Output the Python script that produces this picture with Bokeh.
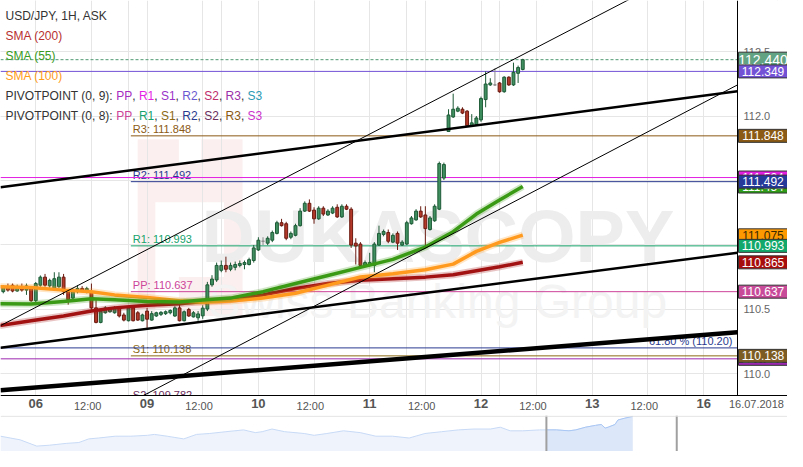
from bokeh.plotting import figure
from bokeh.models import (Range1d, Span, Label, FixedTicker, ColumnDataSource, PrintfTickFormatter,
                          LinearAxis, BoxAnnotation)
from bokeh.layouts import column
from bokeh.core.properties import value
from bokeh.embed import file_html
from bokeh.resources import INLINE

FONT = "Liberation Sans"

# ---------------- data ----------------
hours = list(range(-7, 106))  # hourly bar index, 0 = 06 Jul 00:00
open_ = [110.637, 110.675, 110.687, 110.642, 110.675, 110.649, 110.662, 110.567, 110.687, 110.750,
         110.682, 110.662, 110.675, 110.750, 110.637, 110.587, 110.637, 110.662, 110.642, 110.637,
         110.511, 110.398, 110.473, 110.481, 110.473, 110.511, 110.456, 110.411, 110.511, 110.473,
         110.411, 110.486, 110.416, 110.448, 110.461, 110.466, 110.473, 110.448, 110.511, 110.411,
         110.499, 110.441, 110.434, 110.449, 110.502, 110.690, 110.728, 110.803, 110.841, 110.811,
         110.826, 110.841, 110.848, 110.848, 110.879, 110.961, 111.029, 111.014, 111.037, 111.090,
         111.173, 111.165, 111.060, 111.075, 111.150, 111.263, 111.324, 111.271, 111.203, 111.286,
         111.233, 111.248, 111.293, 111.218, 111.301, 111.278, 111.014, 111.007, 110.841, 110.841,
         110.841, 110.999, 111.082, 111.097, 111.022, 111.090, 110.999, 111.007, 111.165, 111.195,
         111.263, 111.233, 111.120, 111.188, 111.278, 111.520, 111.882, 111.995, 112.040, 112.055,
         112.040, 111.927, 111.934, 111.972, 112.130, 112.244, 112.244, 112.259, 112.191, 112.304,
         112.244, 112.334, 112.364]
high_ = [110.687, 110.700, 110.700, 110.692, 110.700, 110.700, 110.675, 110.712, 110.763, 110.775,
         110.738, 110.788, 110.788, 110.775, 110.649, 110.662, 110.687, 110.680, 110.675, 110.700,
         110.574, 110.499, 110.524, 110.516, 110.524, 110.524, 110.473, 110.516, 110.524, 110.486,
         110.466, 110.511, 110.486, 110.481, 110.486, 110.491, 110.499, 110.524, 110.536, 110.491,
         110.511, 110.486, 110.486, 110.532, 110.713, 110.765, 110.863, 110.879, 110.909, 110.863,
         110.871, 110.879, 110.879, 110.901, 110.999, 111.060, 111.060, 111.067, 111.112, 111.188,
         111.203, 111.180, 111.105, 111.165, 111.286, 111.339, 111.354, 111.293, 111.301, 111.301,
         111.278, 111.301, 111.316, 111.316, 111.316, 111.293, 111.052, 111.022, 110.879, 110.939,
         111.022, 111.150, 111.120, 111.120, 111.090, 111.105, 111.037, 111.188, 111.225, 111.278,
         111.301, 111.301, 111.225, 111.316, 111.648, 111.640, 112.055, 112.176, 112.078, 112.070,
         112.048, 112.017, 112.002, 112.153, 112.349, 112.296, 112.372, 112.266, 112.311, 112.311,
         112.417, 112.394, 112.447]
low_ = [110.624, 110.637, 110.632, 110.637, 110.637, 110.612, 110.557, 110.541, 110.675, 110.675,
        110.667, 110.657, 110.667, 110.612, 110.536, 110.574, 110.624, 110.632, 110.624, 110.486,
        110.391, 110.391, 110.466, 110.473, 110.466, 110.436, 110.406, 110.406, 110.406, 110.411,
        110.406, 110.355, 110.411, 110.441, 110.448, 110.456, 110.461, 110.441, 110.406, 110.406,
        110.441, 110.436, 110.411, 110.426, 110.486, 110.675, 110.713, 110.788, 110.788, 110.796,
        110.803, 110.826, 110.811, 110.841, 110.863, 110.954, 110.999, 110.999, 111.022, 111.082,
        111.143, 111.037, 111.045, 111.067, 111.143, 111.256, 111.256, 111.165, 111.195, 111.225,
        111.225, 111.240, 111.210, 111.210, 111.271, 110.977, 110.848, 110.826, 110.833, 110.833,
        110.788, 110.992, 111.067, 111.014, 111.014, 110.961, 110.992, 110.999, 111.158, 111.188,
        111.210, 110.992, 111.112, 111.180, 111.271, 111.505, 111.882, 111.987, 112.032, 112.017,
        111.919, 111.919, 111.927, 111.957, 112.070, 112.236, 112.236, 112.183, 112.183, 112.236,
        112.236, 112.259, 112.357]
close_ = [110.675, 110.649, 110.642, 110.675, 110.649, 110.682, 110.567, 110.700, 110.750, 110.687,
          110.725, 110.738, 110.750, 110.637, 110.574, 110.637, 110.662, 110.642, 110.662, 110.511,
          110.398, 110.486, 110.511, 110.499, 110.511, 110.448, 110.416, 110.511, 110.411, 110.416,
          110.456, 110.423, 110.466, 110.473, 110.476, 110.481, 110.491, 110.511, 110.411, 110.481,
          110.448, 110.473, 110.464, 110.509, 110.690, 110.735, 110.841, 110.841, 110.811, 110.841,
          110.848, 110.856, 110.863, 110.886, 110.977, 111.037, 111.029, 111.052, 111.097, 111.173,
          111.150, 111.052, 111.090, 111.150, 111.263, 111.324, 111.263, 111.203, 111.286, 111.240,
          111.263, 111.286, 111.218, 111.301, 111.278, 110.999, 110.992, 110.841, 110.863, 110.863,
          111.007, 111.090, 111.105, 111.029, 111.075, 111.014, 111.022, 111.173, 111.210, 111.263,
          111.218, 111.127, 111.210, 111.301, 111.633, 111.625, 112.010, 112.055, 112.063, 112.025,
          111.927, 111.949, 111.987, 112.138, 112.251, 112.259, 112.244, 112.191, 112.304, 112.244,
          112.342, 112.379, 112.440]

sma_hours = [-8, -1, 6, 12, 17, 24, 31, 36, 42, 49, 56, 63, 70, 77, 84, 90, 95, 100, 105]
sma55 = [110.544, 110.541, 110.561, 110.582, 110.574, 110.561, 110.556, 110.572, 110.587, 110.637,
         110.700, 110.763, 110.826, 110.888, 110.984, 111.103, 111.240, 111.350, 111.454]
sma100 = [110.675, 110.670, 110.649, 110.637, 110.612, 110.592, 110.567, 110.555, 110.565, 110.587,
          110.625, 110.688, 110.751, 110.776, 110.808, 110.851, 110.950, 111.020, 111.077]
sma200 = [110.373, 110.411, 110.448, 110.486, 110.511, 110.531, 110.544, 110.560, 110.575, 110.612,
          110.662, 110.700, 110.725, 110.738, 110.750, 110.768, 110.800, 110.830, 110.865]

pivot8_names = ["R3", "R2", "R1", "PP", "S1", "S2"]
pivot8_values = [111.848, 111.492, 110.993, 110.637, 110.138, 109.782]
pivot8_colors = ["#8b5a14", "#2a3a8f", "#16a36b", "#cc4499", "#8b6914", "#6b2d5c"]
pivot8_start = 20.5

pivot9_values = [112.349, 111.524, 110.115]
pivot9_colors = ["#7352d6", "#e21fe0", "#9c27b0"]

last_price = 112.440
fib_level = 110.20
fib_text = "61.80 % (110.20)"

trend_h0 = [-7.6, -7.6, -7.6, -7.6, -7.6]
trend_p0 = [110.373, 109.249, 111.448, 110.202, 109.870]
trend_h1 = [151.3, 151.3, 151.3, 151.3, 151.3]
trend_p1 = [113.345, 112.244, 112.194, 110.939, 110.321]
trend_width = [1, 1, 2.5, 2.5, 4.5]

day_ticks = [0, 24, 48, 72, 96, 120, 144]
day_labels = ["06", "09", "10", "11", "12", "13", "16"]
half_ticks = [12, 36, 60, 84, 108, 132]
price_ticks = [110.0, 110.5, 111.0, 111.5, 112.0, 112.5]

tag_values = [112.440, 112.349, 111.848, 111.524, 111.454, 111.492, 111.075, 110.993, 110.865, 110.637, 110.115, 110.138]
tag_colors = ["#62a383", "#7352d6", "#8b5a14", "#e21fe0", "#2f9a1a", "#24399a", "#ff9900", "#13a86b", "#a80d0d", "#c84b9a", "#9c27b0", "#7d5c24"]
tag_text_colors = ["white"] * 6 + ["#3a2a00"] + ["white"] * 5

nav_t = [0, 10, 20, 37, 50, 67, 80, 90, 100, 117, 133, 150, 157, 170, 187, 200, 213, 230, 248, 260,
         267, 277, 290, 310, 320, 333, 350, 367, 383, 400, 417, 433, 450, 467, 483, 500, 510, 520, 533,
         550, 557, 567, 580, 587, 597, 607, 613, 617, 620, 627, 630, 637, 645]
nav_v = [110.125, 109.875, 109.625, 108.75, 108.875, 109.125, 109.25, 109.75, 109.875, 110.125, 110.125,
         110.25, 110.375, 110.125, 109.75, 110.375, 110.5, 110.75, 111.0, 110.625, 110.75, 111.125, 110.75,
         110.5, 110.25, 110.5, 110.875, 110.625, 110.125, 110.125, 109.875, 110.5, 110.75, 111.0, 111.125,
         111.125, 111.375, 110.875, 110.875, 111.0, 111.0, 111.0, 110.875, 111.0, 111.375, 111.625, 111.75,
         111.25, 111.375, 111.75, 112.375, 112.625, 112.875]
nav_window = (557, 645)
nav_marks = [557, 690]

# ---------------- layout helpers ----------------
X0, XA, Y0, Y1 = -7.6, 151.3, 109.83, 112.90   # XA: where the price axis sits, Y0: time axis
FW, FH = 737, 395          # plot area
FWT, LBL = 787, 20         # whole frame incl. price tag strip / time label strip
XE = X0 + FWT * (XA - X0) / FW
YB = Y0 - LBL * (Y1 - Y0) / FH


def dx(px):
    return X0 + px * (XA - X0) / FW


def dy(py):
    return Y1 - py * (Y1 - Y0) / FH


def rdx(rx):   # reference-picture pixel -> data
    return dx(rx * FW / 752.0)


def rdy(ry):
    return dy(ry * FH / 407.0)


AW = {"P": 667, "I": 278, "V": 667, "O": 778, "T": 611, "N": 722, " ": 278, "(": 333, ")": 333,
      ",": 278, ":": 278, "R": 722, "S": 667}


def tw(s, size=12):
    return sum(AW.get(c, 556) for c in s) * size / 1000.0


p = figure(frame_width=FWT, frame_height=FH + LBL, x_range=Range1d(X0, XE), y_range=Range1d(YB, Y1),
           toolbar_location=None, output_backend="svg", x_axis_location=None, y_axis_location=None,
           min_border=0)
p.outline_line_color = None
p.background_fill_color = "white"
p.border_fill_color = "white"

# watermark logo (behind the grid)
logo_pink = "#fcefef"
p.add_layout(BoxAnnotation(left=rdx(140), right=rdx(247), top=rdy(143), bottom=rdy(325),
                           fill_color=logo_pink, fill_alpha=1, line_color=None, level="image"))
for l, r, t, b in [(182, 205, 143, 168), (158, 228, 208, 285), (158, 182, 285, 325)]:
    p.add_layout(BoxAnnotation(left=rdx(l), right=rdx(r), top=rdy(t), bottom=rdy(b),
                               fill_color="white", fill_alpha=1, line_color=None, level="image"))

# time axis: days (bold), half days and the date, all on the plot's bottom edge
axis_style = dict(fixed_location=Y0, major_tick_out=0, major_tick_in=0, minor_tick_out=0,
                  minor_tick_in=0, major_label_text_font=FONT, major_label_text_color="#555555",
                  level="overlay")
ax = LinearAxis(ticker=FixedTicker(ticks=day_ticks, minor_ticks=half_ticks),
                major_label_overrides={t: l for t, l in zip(day_ticks, day_labels)},
                axis_line_color="black", major_label_text_font_size="13px",
                major_label_text_font_style="bold", major_label_standoff=3, **axis_style)
p.add_layout(ax, "below")
for ticks, fmt in [([t - 0.8 for t in half_ticks], "12:00"), ([dx(FW + 26)], "16.07.2018")]:
    p.add_layout(LinearAxis(ticker=FixedTicker(ticks=ticks), formatter=PrintfTickFormatter(format=fmt),
                            axis_line_color=None, major_label_text_font_size="11px",
                            major_label_standoff=4, **axis_style), "below")

ya = LinearAxis(ticker=FixedTicker(ticks=price_ticks), formatter=PrintfTickFormatter(format="%.1f"),
                fixed_location=XA, bounds=(Y0, Y1), axis_line_color="black", major_tick_out=0,
                major_tick_in=0, minor_tick_out=0, minor_tick_in=0, major_label_text_font=FONT,
                major_label_text_font_size="11px", major_label_text_color="#666666",
                major_label_standoff=6)
p.add_layout(ya, "right")

from bokeh.models import Grid
p.add_layout(Grid(dimension=0, ticker=ax.ticker, grid_line_color="#e6e6e6",
                  minor_grid_line_color="#e6e6e6"))
p.add_layout(Grid(dimension=1, ticker=FixedTicker(ticks=price_ticks), grid_line_color="#e6e6e6"))
# keep the price strip right of the axis clear of grid lines
p.add_layout(BoxAnnotation(left=XA, fill_color="white", fill_alpha=1.0, line_color=None, level="underlay"))

# watermark text
p.add_layout(Label(x=rdx(205), y=rdy(243), text="DUKASCOPY", text_font=FONT,
                   text_font_style="bold", text_font_size="74px", text_color="#ededed",
                   text_baseline="alphabetic", level="underlay"))
p.add_layout(Label(x=rdx(212), y=rdy(310), text="Swiss Banking Group", text_font=FONT,
                   text_font_size="48px", text_color="#f3f3f3", text_baseline="alphabetic",
                   level="underlay"))

# pivot (0, 8) lines and labels
n8 = len(pivot8_values)
p.segment(x0=[pivot8_start] * n8, y0=pivot8_values, x1=[XA] * n8, y1=pivot8_values,
          line_color=pivot8_colors, line_width=1)
p.text(x=[pivot8_start] * n8, y=pivot8_values,
       text=["%s: %.3f" % (n, v) for n, v in zip(pivot8_names, pivot8_values)],
       text_color=pivot8_colors, text_font=value(FONT), text_font_size="11px",
       text_baseline="bottom", x_offset=2, y_offset=-1)

# full width lines
n9 = len(pivot9_values)
p.segment(x0=[X0] * n9, y0=pivot9_values, x1=[XA] * n9, y1=pivot9_values,
          line_color=pivot9_colors, line_width=1)
p.segment(x0=[X0], y0=[fib_level], x1=[XA], y1=[fib_level], line_color="#2a3a8f", line_width=1)
p.text(x=[XA], y=[fib_level], text=[fib_text], text_color="#2a3a8f", text_font=value(FONT),
       text_font_size="11px", text_align="right", text_baseline="bottom", x_offset=-5, y_offset=-1)
p.segment(x0=[X0], y0=[last_price], x1=[XA], y1=[last_price], line_color="#4f9a72", line_width=1,
          line_dash="3 2")

# candles
up_fill, up_line = "#3f8f60", "#1d5a36"
dn_fill, dn_line = "#b3382a", "#6a1a10"
fills, lines, tops, bots = [], [], [], []
for o, c in zip(open_, close_):
    if c > o:
        fills.append(up_fill); lines.append(up_line)
    elif c < o:
        fills.append(dn_fill); lines.append(dn_line)
    else:
        fills.append("#8a8a8a"); lines.append("#8a8a8a")
    tops.append(max(o, c)); bots.append(min(o, c))
src = ColumnDataSource(dict(h=hours, high=high_, low=low_, top=tops, bottom=bots, fill=fills, line=lines))
p.segment(x0="h", y0="high", x1="h", y1="low", line_color="line", line_width=1, source=src)
p.vbar(x="h", width=0.62, top="top", bottom="bottom", fill_color="fill", line_color="line",
       line_width=1, source=src)

# SMAs
for vals, col in [(sma200, "#a31212"), (sma100, "#ff9a1f"), (sma55, "#3a9a15")]:
    p.line(sma_hours, vals, line_color=col, line_width=7, line_alpha=0.25, line_join="round")
    p.line(sma_hours, vals, line_color=col, line_width=3.5, line_join="round")

# trend lines
p.segment(x0=trend_h0, y0=trend_p0, x1=trend_h1, y1=trend_p1, line_color="black",
          line_width=trend_width)

# blank strip under the time axis
p.add_layout(BoxAnnotation(top=Y0, fill_color="white", fill_alpha=1.0, line_color=None))

# price tags (drawn over the axis labels)
tag_x = dx(FW + 25.5)
for v, bg, tc in zip(tag_values, tag_colors, tag_text_colors):
    big = v == last_price
    p.rect(x=[tag_x], y=[v], width=49, height=15 if big else 13, width_units="screen",
           height_units="screen", fill_color=bg, line_color="#333333", line_width=1, level="overlay")
    p.text(x=[tag_x], y=[v], text=["%.3f" % v], text_color=tc, text_font=value(FONT),
           text_font_size="14px" if big else "12px", text_align="center", text_baseline="middle",
           level="overlay")

# legend rows
rows = [
    [("USD/JPY, 1H, ASK", "#333333")],
    [("SMA (200)", "#b8312f")],
    [("SMA (55)", "#3a9a22")],
    [("SMA (100)", "#ff9c1a")],
    [("PIVOTPOINT (0, 9): ", "#333333"), ("PP", "#a62cc0"), (", ", "#333333"), ("R1", "#e51ee5"),
     (", ", "#333333"), ("S1", "#9b33c9"), (", ", "#333333"), ("R2", "#6a5ad0"), (", ", "#333333"),
     ("S2", "#c02d6b"), (", ", "#333333"), ("R3", "#9b30a8"), (", ", "#333333"), ("S3", "#2a9ab5")],
    [("PIVOTPOINT (0, 8): ", "#333333"), ("PP", "#cc4499"), (", ", "#333333"), ("R1", "#16a36b"),
     (", ", "#333333"), ("S1", "#8b6914"), (", ", "#333333"), ("R2", "#2a3a8f"), (", ", "#333333"),
     ("S2", "#6b2d5c"), (", ", "#333333"), ("R3", "#8b5a14"), (", ", "#333333"), ("S3", "#cc33cc")],
]
for i, row in enumerate(rows):
    px = 5.0
    for txt, col in row:
        p.add_layout(Label(x=dx(px), y=dy(15.7 + 20 * i), text=txt, text_font=FONT,
                           text_font_size="12px", text_color=col, text_align="left",
                           text_baseline="middle"))
        px += tw(txt)

# ---------------- navigator ----------------
p2 = figure(width=FWT, height=36, x_range=Range1d(0, 803), y_range=Range1d(108.0, 113.0),
            toolbar_location=None, output_backend="svg", min_border=0,
            x_axis_location=None, y_axis_location=None)
p2.grid.visible = False
p2.outline_line_color = None
p2.varea(x=nav_t, y1=108.0, y2=nav_v, fill_color="#eef3fc")
p2.line(nav_t, nav_v, line_color="#c8daf6", line_width=1)
win_t = [t for t in nav_t if nav_window[0] <= t <= nav_window[1]]
win_v = [v for t, v in zip(nav_t, nav_v) if nav_window[0] <= t <= nav_window[1]]
p2.varea(x=win_t, y1=108.0, y2=win_v, fill_color="#dce7f9")
p2.line(win_t, win_v, line_color="#a9c6f3", line_width=1)
for m in nav_marks:
    p2.add_layout(Span(location=m, dimension="height", line_color="#a0a0a0", line_width=2))
p2.add_layout(Span(location=112.9, dimension="width", line_color="#e0e0e0", line_width=1))

layout = column(p, p2, spacing=0)
open("out.html", "w").write(file_html(layout, INLINE))
